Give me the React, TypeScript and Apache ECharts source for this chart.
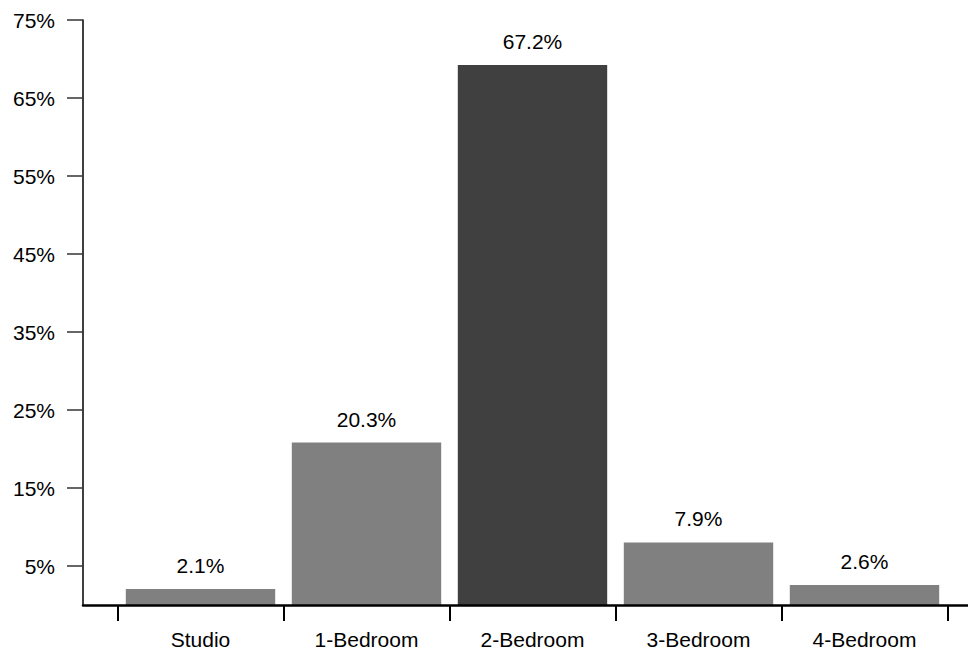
import React, { useEffect, useRef } from "react";
import * as echarts from "echarts";

const categories = ["Studio", "1-Bedroom", "2-Bedroom", "3-Bedroom", "4-Bedroom"];
const shares = [2.1, 20.3, 67.2, 7.9, 2.6];
const yTickValues = [5, 15, 25, 35, 45, 55, 65, 75];
const highlighted = "2-Bedroom";

const FONT = "'Liberation Sans', Arial, Helvetica, sans-serif";

export default function App() {
  const ref = useRef<HTMLDivElement>(null);

  useEffect(() => {
    if (!ref.current) return;
    const chart = echarts.init(ref.current, undefined, { renderer: "svg" });
    chart.setOption({
      animation: false,
      backgroundColor: "#ffffff",
      textStyle: { fontFamily: FONT },
      grid: [
        { left: 117.5, right: 20.5, top: 20, bottom: 45, containLabel: false },
        { left: 83, right: 0, top: 20, bottom: 46, containLabel: false },
      ],
      xAxis: [
        {
          type: "category",
          gridIndex: 0,
          data: categories,
          axisLine: { show: false },
          axisTick: { show: true, length: 15, lineStyle: { color: "#000", width: 2 } },
          axisLabel: { color: "#000", fontSize: 21, fontFamily: FONT, margin: 23 },
          splitLine: { show: false },
        },
        {
          type: "value",
          gridIndex: 1,
          min: 0,
          max: 1,
          z: 10,
          axisLine: { show: true, onZero: false, lineStyle: { color: "#000", width: 2.5 } },
          axisTick: { show: false },
          axisLabel: { show: false },
          splitLine: { show: false },
        },
      ],
      yAxis: [
        {
          type: "value",
          gridIndex: 0,
          min: 0,
          max: 72.8,
          show: false,
          splitLine: { show: false },
        },
        {
          type: "value",
          gridIndex: 1,
          min: 0,
          max: 75,
          axisLine: { show: true, onZero: false, lineStyle: { color: "#000", width: 1.5 } },
          axisTick: {
            show: true,
            length: 16,
            customValues: yTickValues,
            lineStyle: { color: "#333", width: 1.5 },
          },
          axisLabel: {
            show: true,
            customValues: yTickValues,
            formatter: (v: number) => `${v}%`,
            color: "#000",
            fontSize: 21,
            fontFamily: FONT,
            margin: 28,
          },
          splitLine: { show: false },
        },
      ],
      series: [
        {
          type: "bar",
          xAxisIndex: 0,
          yAxisIndex: 0,
          barCategoryGap: "10%",
          data: shares.map((v, i) => ({
            value: v,
            itemStyle: { color: categories[i] === highlighted ? "#404040" : "#808080" },
          })),
          label: {
            show: true,
            position: "top",
            distance: 13,
            formatter: "{c}%",
            color: "#000",
            fontSize: 21,
            fontFamily: FONT,
          },
        },
      ],
    });
    return () => chart.dispose();
  }, []);

  return (
    <div
      ref={ref}
      style={{ position: "fixed", left: 0, top: 0, width: 968, height: 651 }}
    />
  );
}
